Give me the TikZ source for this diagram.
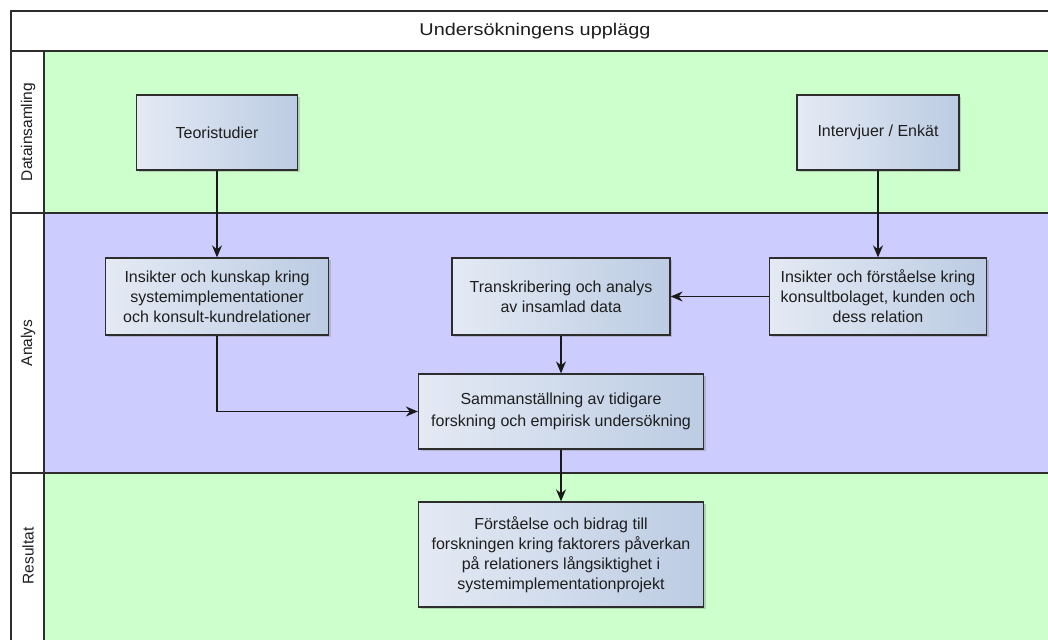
\documentclass[tikz,border=0pt]{standalone}
\usepackage{fontspec}
\setmainfont{Liberation Sans}
\newfontfamily\titlefont{Liberation Sans}[FakeStretch=1.17]
\usetikzlibrary{arrows.meta,shadows}
\definecolor{laneG}{RGB}{204,255,204}
\definecolor{laneP}{RGB}{204,204,255}
\definecolor{boxL}{RGB}{228,234,244}
\definecolor{boxR}{RGB}{188,204,227}
\definecolor{edge}{RGB}{45,45,45}
\definecolor{txt}{RGB}{30,30,30}
\tikzset{
 procbox/.style={draw=edge, line width=1.3pt, left color=boxL, right color=boxR, align=center,
   font=\fontsize{16}{20}\selectfont, text=txt, inner sep=0pt,
   drop shadow={shadow xshift=2pt, shadow yshift=-2pt, opacity=0.35}},
 flow/.style={draw=black!90, line width=1.2pt, -{Stealth[length=12pt,width=10pt,inset=4pt]}},
 frameline/.style={draw=edge, line width=1.2pt},
 lanelabel/.style={rotate=90, font=\fontsize{15.5}{18}\selectfont, text=txt},
 titlelabel/.style={font=\titlefont\fontsize{17}{20}\selectfont, text=txt}
}
\begin{document}
\begin{tikzpicture}[x=1pt,y=-1pt]
\useasboundingbox (0,0) rectangle (1048,639);
\clip (0,0) rectangle (1048,639);
\fill[white] (0,0) rectangle (1048,639);
% lanes
\fill[laneG] (44,51) rectangle (1060,213);
\fill[laneP] (44,213) rectangle (1060,473);
\fill[laneG] (44,473) rectangle (1060,650);
% frame
\draw[frameline] (1060,11) -- (11,11) -- (11,650);
\draw[frameline] (11,51) -- (1060,51);
\draw[frameline] (11,213) -- (1060,213);
\draw[frameline] (11,473) -- (1060,473);
\draw[frameline] (44,51) -- (44,650);
% labels
\node[titlelabel] (title) at (535,31) {Undersökningens upplägg};
\node[lanelabel] (l1) at (28,132) {Datainsamling};
\node[lanelabel] (l2) at (28,343) {Analys};
\node[lanelabel] (l3) at (28,556) {Resultat};
% boxes
\node[procbox, minimum width=161pt, minimum height=75pt] (teori) at (217,132.5) {Teoristudier};
\node[procbox, minimum width=162pt, minimum height=75pt] (intervju) at (878,132.5) {Intervjuer / Enkät};
\node[procbox, minimum width=223pt, minimum height=77pt] (kunskap) at (217,296.5)
  {Insikter och kunskap kring\\systemimplementationer\\och konsult-kundrelationer};
\node[procbox, minimum width=218pt, minimum height=77pt] (transk) at (561,296.5)
  {Transkribering och analys\\av insamlad data};
\node[procbox, minimum width=217pt, minimum height=77pt] (forst) at (878,296.5)
  {Insikter och förståelse kring\\konsultbolaget, kunden och\\dess relation};
\node[procbox, minimum width=285pt, minimum height=75pt, font=\fontsize{16}{22}\selectfont] (samman) at (561,411.5)
  {Sammanställning av tidigare\\forskning och empirisk undersökning};
\node[procbox, minimum width=285pt, minimum height=105pt] (result) at (561,554.5)
  {Förståelse och bidrag till\\forskningen kring faktorers påverkan\\på relationers långsiktighet i\\systemimplementationprojekt};
% connectors
\draw[flow] (teori) -- (kunskap);
\draw[flow] (intervju) -- (forst);
\draw[flow] (forst) -- (transk);
\draw[flow] (kunskap.south) |- (samman.west);
\draw[flow] (transk) -- (samman);
\draw[flow] (samman) -- (result);
\end{tikzpicture}
\end{document}
